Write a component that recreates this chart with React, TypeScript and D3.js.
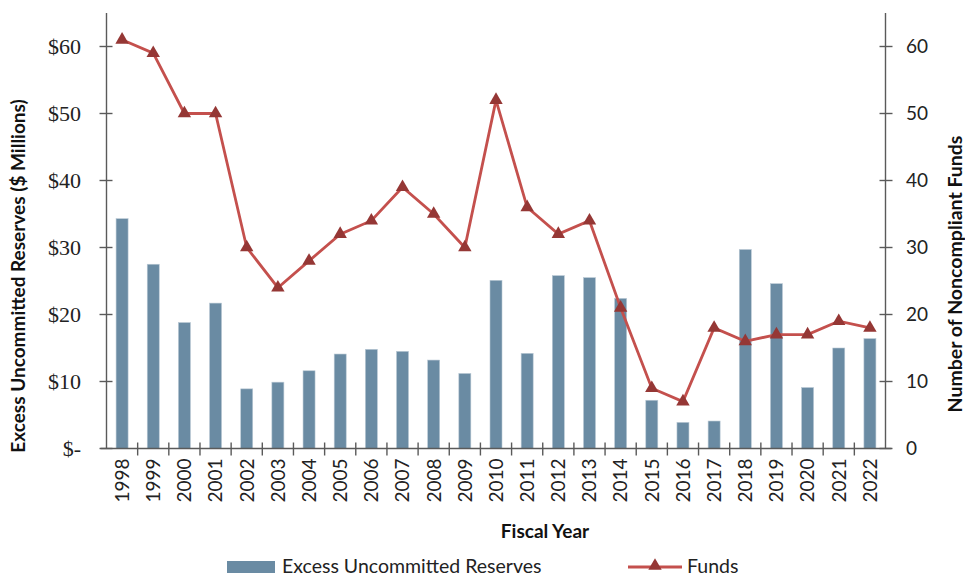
import React from "react";
import * as d3 from "d3";

const years = [
  "1998", "1999", "2000", "2001", "2002", "2003", "2004", "2005", "2006",
  "2007", "2008", "2009", "2010", "2011", "2012", "2013", "2014", "2015",
  "2016", "2017", "2018", "2019", "2020", "2021", "2022",
];
// excess uncommitted reserves, $ millions
const reserves = [
  34.3, 27.5, 18.8, 21.7, 8.9, 9.9, 11.6, 14.1, 14.8, 14.5, 13.2, 11.2, 25.1,
  14.2, 25.8, 25.5, 22.4, 7.2, 3.9, 4.1, 29.7, 24.6, 9.1, 15.0, 16.4,
];
// number of noncompliant funds
const funds = [
  61, 59, 50, 50, 30, 24, 28, 32, 34, 39, 35, 30, 52, 36, 32, 34, 21, 9, 7,
  18, 16, 17, 17, 19, 18,
];
const leftTicks = [0, 10, 20, 30, 40, 50, 60];
const rightTicks = [0, 10, 20, 30, 40, 50, 60];

const W = 965;
const H = 577;
const left = 106.5;
const right = 885.5;
const top = 13;
const bottom = 448.5;

const barColor = "#6a8ba3";
const lineColor = "#c4504d";
const markerColor = "#953735";
const axisColor = "#5a5a5a";
const sans = "Lato, 'Open Sans', sans-serif";

export default function App() {
  const x = d3.scaleBand().domain(years).range([left, right]).padding(0);
  const yL = d3.scaleLinear().domain([0, 65]).range([bottom, top]);
  const yR = d3.scaleLinear().domain([0, 65]).range([bottom, top]);
  const barW = 12;
  const cx = (y: string) => (x(y) ?? 0) + x.bandwidth() / 2;

  const line = d3
    .line<number>()
    .x((_, i) => cx(years[i]))
    .y((d) => yR(d));
  const tri = d3.symbol(d3.symbolTriangle, 78)();

  const fmtLeft = (v: number) => (v === 0 ? "$-" : `$${v}`);

  return (
    <svg width={W} height={H} style={{ position: "absolute", left: 0, top: 0 }}>
      <rect width={W} height={H} fill="#fff" />

      {/* bars */}
      {reserves.map((v, i) => (
        <rect
          key={years[i]}
          x={cx(years[i]) - barW / 2}
          y={yL(v)}
          width={barW}
          height={bottom - yL(v)}
          fill={barColor}
          stroke="#b9c8d4"
          strokeWidth={0.6}
        />
      ))}

      {/* axes */}
      <g stroke={axisColor} strokeWidth={1.4}>
        <line x1={left} x2={left} y1={top} y2={bottom} />
        <line x1={right} x2={right} y1={top} y2={bottom} />
        <line x1={left - 6} x2={right + 6} y1={bottom} y2={bottom} />
        {leftTicks.map((t) => (
          <line key={"l" + t} x1={left - 7} x2={left + 6} y1={yL(t)} y2={yL(t)} />
        ))}
        {rightTicks.map((t) => (
          <line key={"r" + t} x1={right - 6} x2={right + 7} y1={yR(t)} y2={yR(t)} />
        ))}
        {years.slice(1).map((y) => (
          <line key={"x" + y} x1={x(y)} x2={x(y)} y1={bottom - 6} y2={bottom + 7} />
        ))}
      </g>

      {/* left tick labels */}
      {leftTicks.map((t) => (
        <text
          key={"lt" + t}
          x={81}
          y={yL(t)}
          dy="0.35em"
          textAnchor="end"
          fontFamily="'Liberation Serif', 'Times New Roman', serif"
          fontSize={22}
          fill="#222"
        >
          {fmtLeft(t)}
        </text>
      ))}
      {/* right tick labels */}
      {rightTicks.map((t) => (
        <text
          key={"rt" + t}
          x={906}
          y={yR(t)}
          dy="0.35em"
          fontFamily={sans}
          fontSize={19}
          fill="#222"
        >
          {t}
        </text>
      ))}
      {/* x tick labels */}
      {years.map((y) => (
        <text
          key={"xt" + y}
          transform={`translate(${cx(y)},${bottom + 10}) rotate(-90)`}
          dy="0.36em"
          textAnchor="end"
          fontFamily={sans}
          fontSize={19}
          fill="#222"
        >
          {y}
        </text>
      ))}

      {/* axis titles */}
      <text
        transform="translate(18,276) rotate(-90)"
        dy="0.35em"
        textAnchor="middle"
        fontFamily={sans}
        fontWeight="bold"
        fontSize={19}
        fill="#111"
      >
        Excess Uncommitted Reserves ($ Millions)
      </text>
      <text
        transform="translate(955,274) rotate(-90)"
        dy="0.35em"
        textAnchor="middle"
        fontFamily={sans}
        fontWeight="bold"
        fontSize={19.5}
        fill="#111"
      >
        Number of Noncompliant Funds
      </text>
      <text
        x={545}
        y={531}
        dy="0.35em"
        textAnchor="middle"
        fontFamily={sans}
        fontWeight="bold"
        fontSize={19}
        fill="#111"
      >
        Fiscal Year
      </text>

      {/* funds line */}
      <path d={line(funds) ?? ""} fill="none" stroke={lineColor} strokeWidth={2.8} />
      {funds.map((v, i) => (
        <path
          key={"m" + years[i]}
          d={tri ?? ""}
          transform={`translate(${cx(years[i])},${yR(v)})`}
          fill={markerColor}
        />
      ))}

      {/* legend */}
      <rect x={227} y={561} width={48} height={12} fill={barColor} />
      <text x={282} y={566} dy="0.35em" fontFamily={sans} fontSize={19.5} fill="#222">
        Excess Uncommitted Reserves
      </text>
      <line x1={628} x2={682} y1={567} y2={567} stroke={lineColor} strokeWidth={2.8} />
      <path d={tri ?? ""} transform="translate(655,566)" fill={markerColor} />
      <text x={687} y={566} dy="0.35em" fontFamily={sans} fontSize={19.5} fill="#222">
        Funds
      </text>
    </svg>
  );
}
